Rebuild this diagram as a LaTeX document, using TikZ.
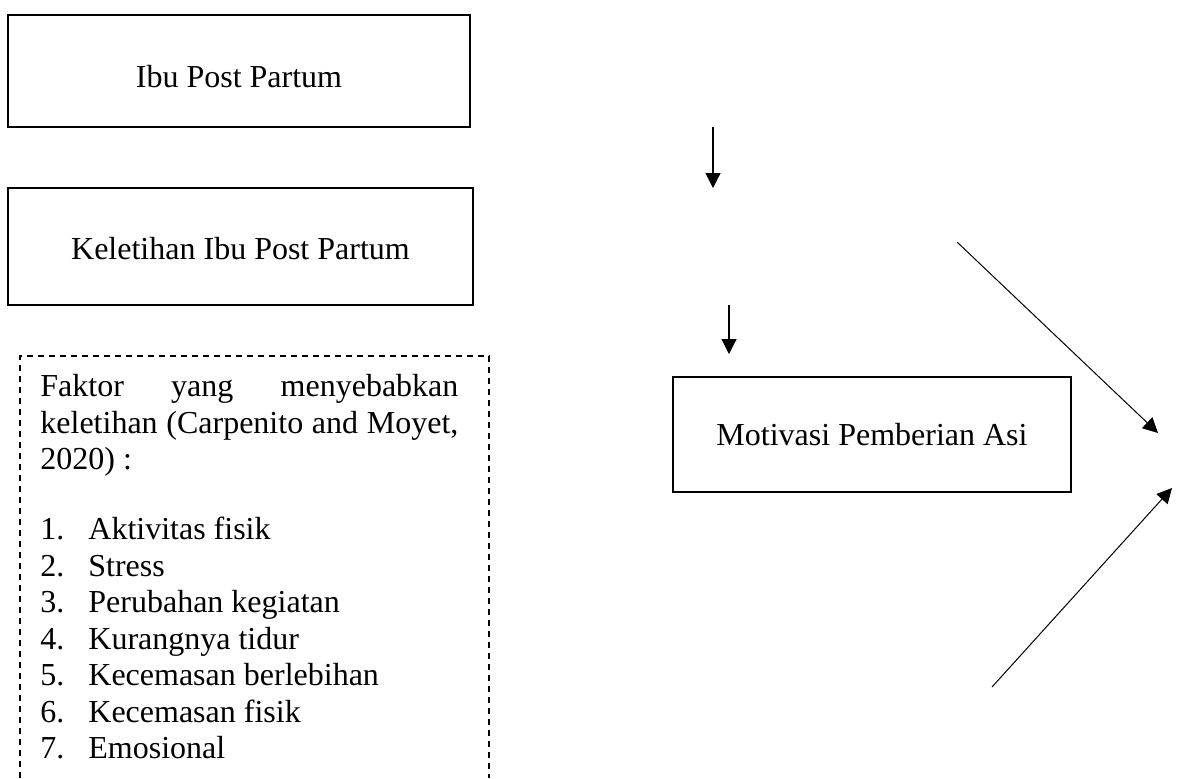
\documentclass[tikz,border=0pt]{standalone}
\usepackage{fontspec}
\setmainfont{Liberation Serif}
\usetikzlibrary{arrows.meta}
\begin{document}
\begin{tikzpicture}[x=0.5pt,y=-0.5pt]
	\tikzstyle{mybox}=[draw,line width=1pt,inner sep=0pt,text depth=0pt,font=\fontsize{16}{18.25}\selectfont]
	\tikzstyle{mydash}=[line width=0.7pt,dash pattern=on 3pt off 2.5pt]
	\tikzstyle{myarrow}=[line width=0.6pt,-{Triangle[length=7.5pt,width=7.5pt]}]
	\useasboundingbox (0,0) rectangle (1178,778);

	\node[mybox,minimum width=231pt,minimum height=56pt,text height=16pt] (ibu) at (239,71) {Ibu Post Partum};
	\node[mybox,minimum width=232.5pt,minimum height=58.5pt,text height=12.5pt] (lelah) at (240.5,246.5) {Keletihan Ibu Post Partum};
	\node[mybox,minimum width=199pt,minimum height=57.5pt,text height=11pt] (asi) at (872,434) {Motivasi Pemberian Asi};

	% kotak faktor (terpotong di bawah)
	\draw[mydash] (20,778) |- (489,356) -- (489,778);
	\node[anchor=north west,inner sep=0pt,text width=209pt,align=justify,font=\fontsize{16}{18.25}\selectfont] (faktor) at (40,374) {%
		\hyphenpenalty=10000
		Faktor yang menyebabkan\linebreak keletihan (Carpenito and Moyet,\linebreak 2020) :\par\vspace{16.75pt}
		\makebox[24pt][l]{1.}Aktivitas fisik\par
		\makebox[24pt][l]{2.}Stress\par
		\makebox[24pt][l]{3.}Perubahan kegiatan\par
		\makebox[24pt][l]{4.}Kurangnya tidur\par
		\makebox[24pt][l]{5.}Kecemasan berlebihan\par
		\makebox[24pt][l]{6.}Kecemasan fisik\par
		\makebox[24pt][l]{7.}Emosional};

	\coordinate (a1) at (713,127);
	\coordinate (b1) at (713,188);
	\coordinate (a2) at (729,305);
	\coordinate (b2) at (729,354);
	\coordinate (c1) at (957,242);
	\coordinate (d1) at (1158,433);
	\coordinate (c2) at (992,687);
	\coordinate (d2) at (1172,488);
	\draw[myarrow] (a1) -- (b1);
	\draw[myarrow] (a2) -- (b2);
	\draw[myarrow,line width=0.5pt] (c1) -- (d1);
	\draw[myarrow,line width=0.5pt] (c2) -- (d2);
\end{tikzpicture}
\end{document}
